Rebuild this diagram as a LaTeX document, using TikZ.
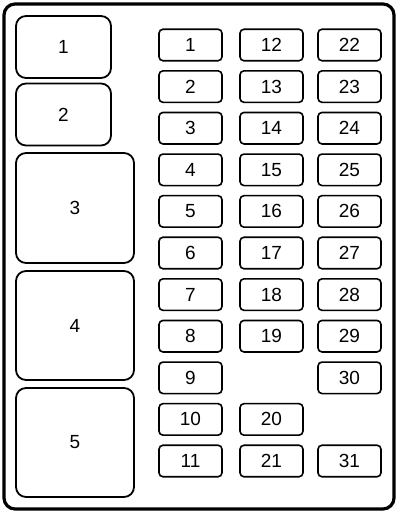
\documentclass[tikz,border=0pt]{standalone}
\usepackage{fontspec}
\setmainfont{Liberation Sans}
\begin{document}
\begin{tikzpicture}[x=1pt, y=-1pt,
	relay/.style={draw, line width=1.8pt, rounded corners=10pt, font=\fontsize{19}{21}\selectfont},
	fuse/.style={draw, line width=1.6pt, rounded corners=4pt, minimum width=63pt, minimum height=31.5pt, font=\fontsize{19}{21}\selectfont}]
	
	\useasboundingbox (0,0) rectangle (400,515);
	
	% Draw the outer housing of the fuse panel
	\draw[line width=3.2pt, rounded corners=11pt] (4,4) rectangle (394,509);
	
	% Draw the large relays on the left
	\node[relay, minimum width=95pt, minimum height=62pt] (r1) at (63.5,47) {1};
	\node[relay, minimum width=95pt, minimum height=62pt] (r2) at (63.5,114.5) {2};
	\node[relay, minimum width=118pt, minimum height=110pt] (r3) at (75,208) {3};
	\node[relay, minimum width=118pt, minimum height=109pt] (r4) at (75,325.5) {4};
	\node[relay, minimum width=118pt, minimum height=109pt] (r5) at (75,442.5) {5};
	
	% Draw the mini fuses, column by column
	\foreach \n in {1,...,11}{
		\node[fuse] (f\n) at (190.5,{45+(\n-1)*41.6}) {\n};
	}
	\foreach \n/\r in {12/1, 13/2, 14/3, 15/4, 16/5, 17/6, 18/7, 19/8, 20/10, 21/11}{
		\node[fuse] (f\n) at (271.5,{45+(\r-1)*41.6}) {\n};
	}
	\foreach \n/\r in {22/1, 23/2, 24/3, 25/4, 26/5, 27/6, 28/7, 29/8, 30/9, 31/11}{
		\node[fuse] (f\n) at (349.5,{45+(\r-1)*41.6}) {\n};
	}
	
\end{tikzpicture}
\end{document}
